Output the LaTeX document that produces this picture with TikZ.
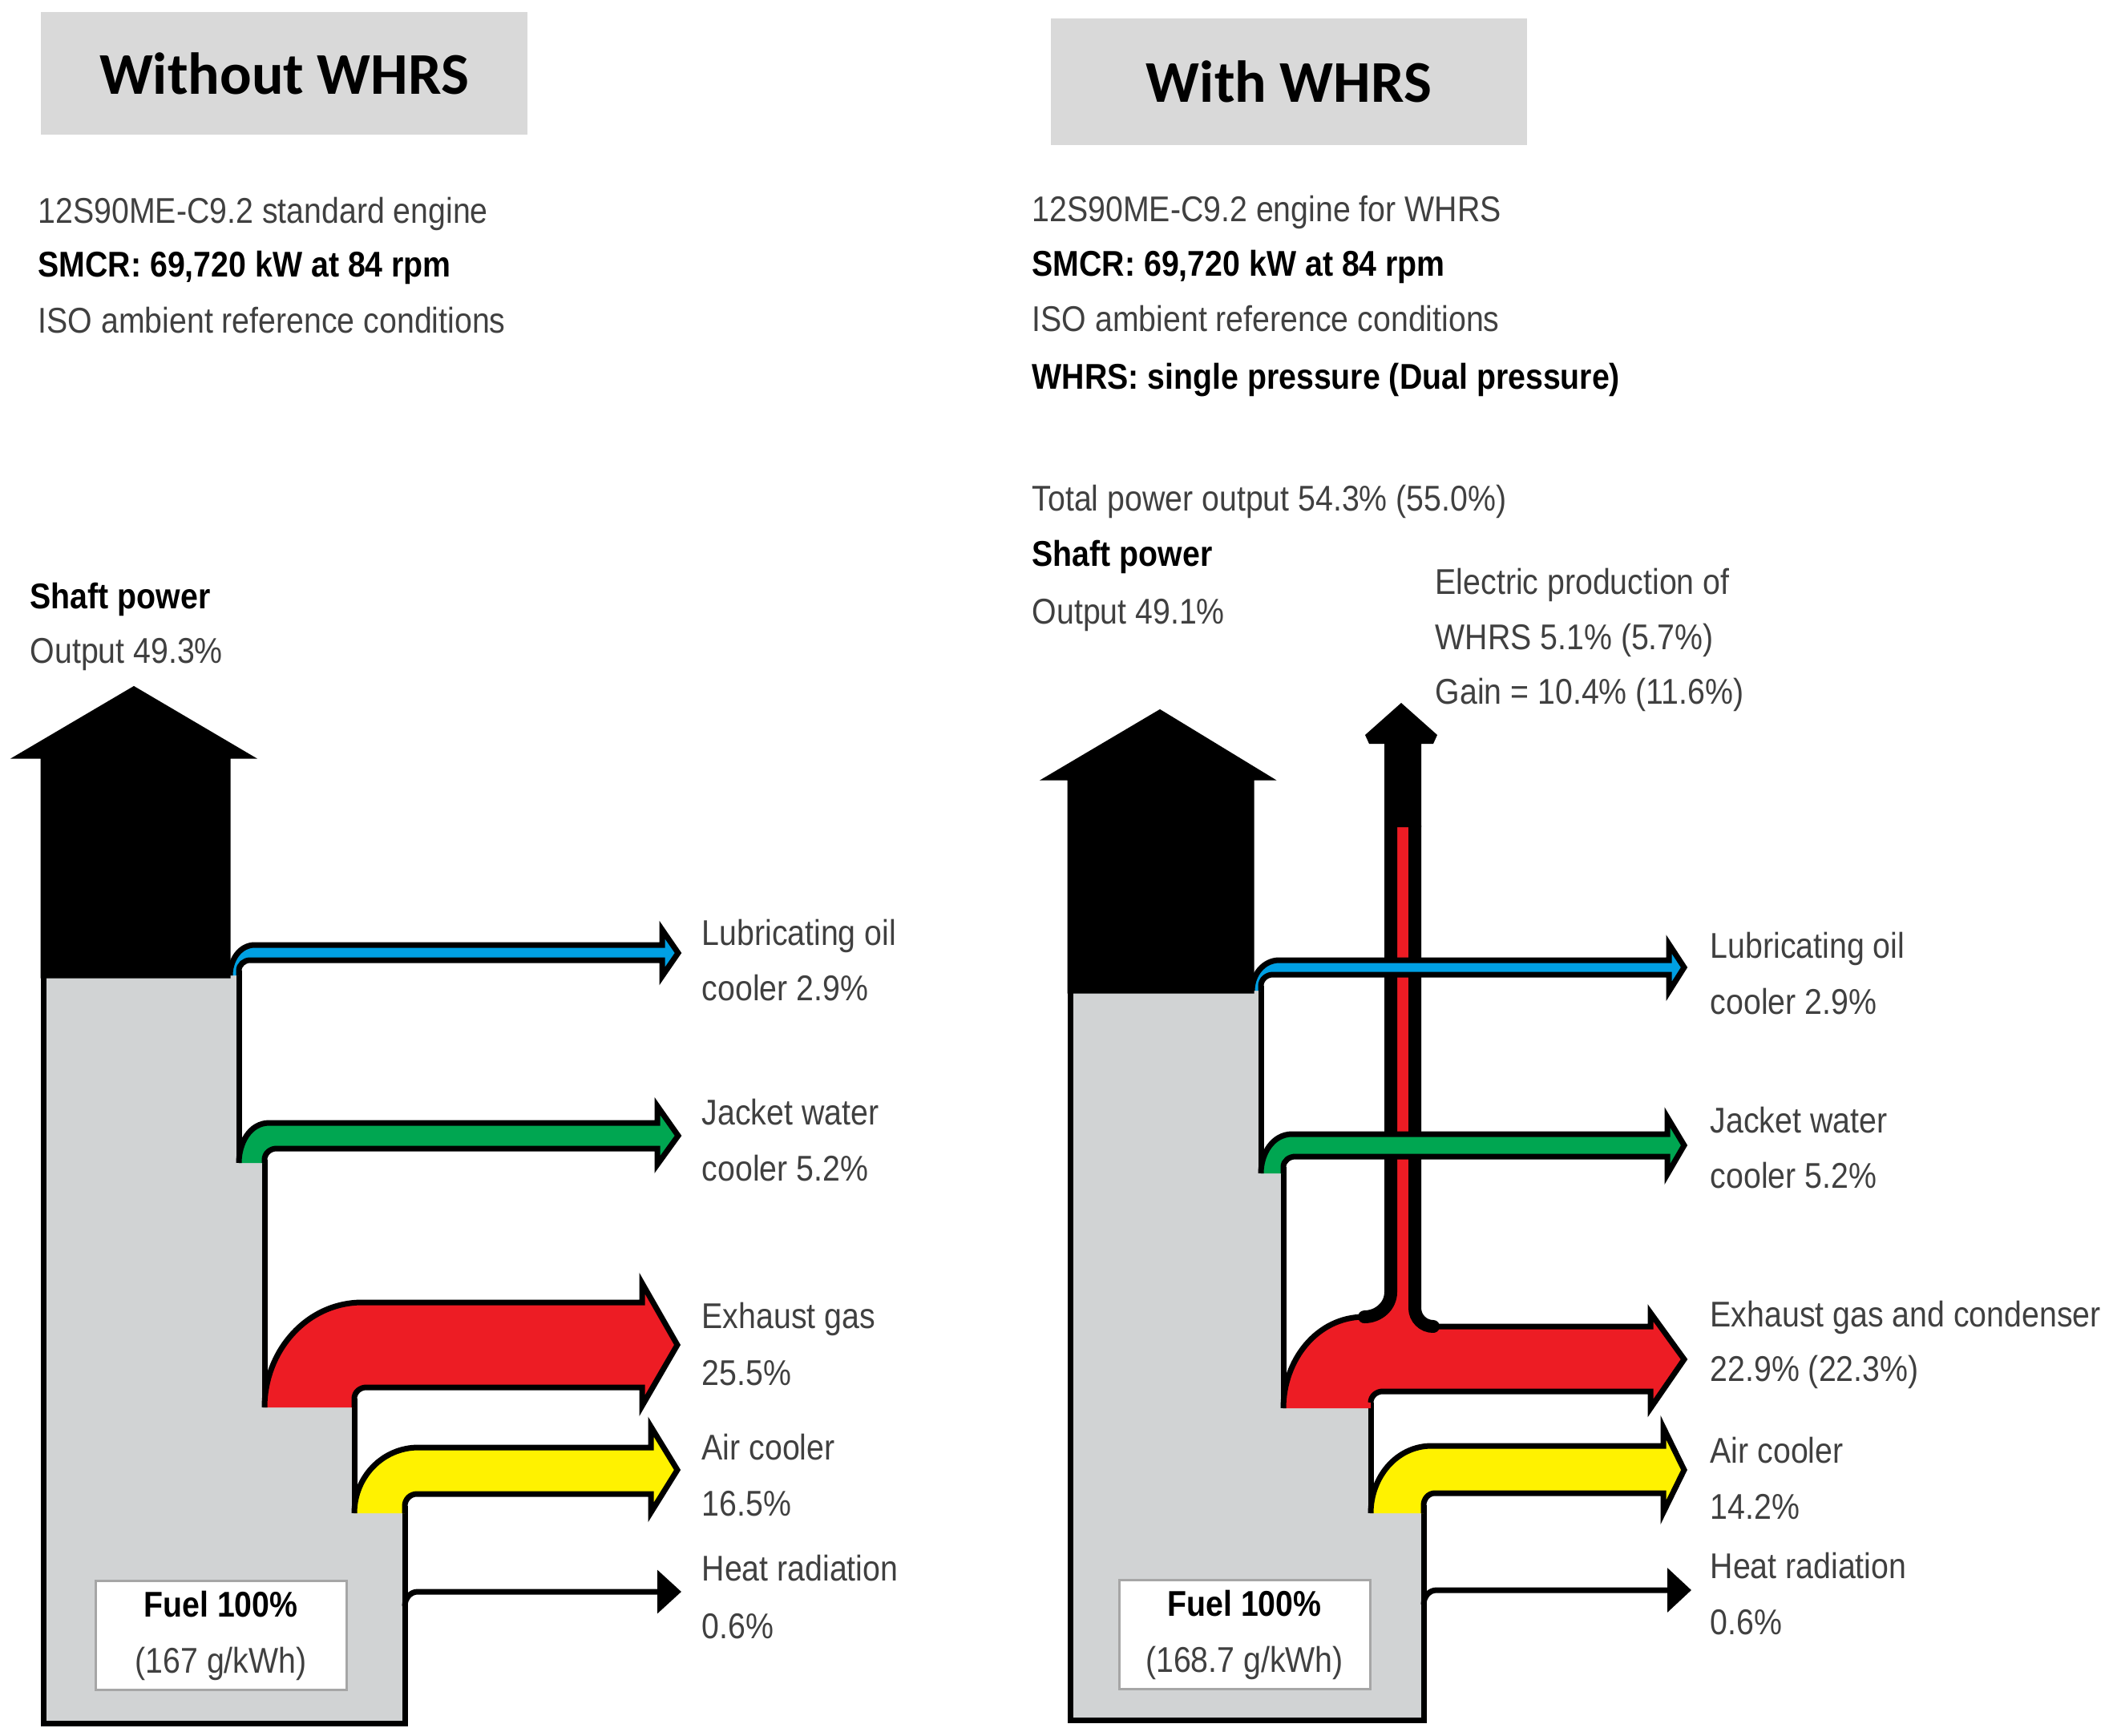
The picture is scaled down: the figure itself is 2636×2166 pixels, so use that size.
\documentclass[tikz,border=0pt]{standalone}
\usepackage{fontspec}
\setmainfont{Liberation Sans}
\newfontfamily\narrowfont[FakeStretch=0.88]{Liberation Sans}
\newfontfamily\titlefont{Carlito}
\usetikzlibrary{arrows.meta}

\definecolor{txtgray}{RGB}{64,64,64}
\definecolor{bodygray}{RGB}{209,211,212}
\definecolor{boxgray}{RGB}{217,217,217}
\definecolor{oilblue}{RGB}{0,160,227}
\definecolor{watergreen}{RGB}{0,166,81}
\definecolor{gasred}{RGB}{237,28,36}
\definecolor{airyellow}{RGB}{255,242,0}

\begin{document}
\begin{tikzpicture}[x=0.1mm, y=-0.1mm,
    outline/.style={draw=black, line width=0.7mm},
    lab/.style={anchor=base west, inner sep=0pt, text=txtgray, font=\narrowfont\fontsize{12.7}{15}\selectfont},
    blab/.style={lab, text=black, font=\narrowfont\bfseries\fontsize{12.7}{15}\selectfont},
    titlebox/.style={fill=boxgray, inner sep=0pt, font=\titlefont\bfseries\fontsize{21}{25}\selectfont},
    fuelbox/.style={fill=white, draw=gray!70, line width=0.3mm, align=center, inner sep=0pt,
        minimum width=31.3mm, minimum height=13.6mm, text=txtgray, font=\narrowfont\fontsize{12.7}{19.9}\selectfont}]
    \useasboundingbox (0,0) rectangle (2636,2166);

    % headings
    \node[titlebox, minimum width=60.7mm, minimum height=15.3mm] (titleL) at (354.5,91.5) {Without WHRS};
    \node[titlebox, minimum width=59.4mm, minimum height=15.8mm] (titleR) at (1608,102) {With WHRS};

    \node[lab] (engL) at (47,279) {12S90ME-C9.2 standard engine};
    \node[blab] (smcrL) at (47,345) {SMCR: 69,720 kW at 84 rpm};
    \node[lab] (isoL) at (47,415) {ISO ambient reference conditions};
    \node[blab] (shaftL) at (37,759) {Shaft power};
    \node[lab] (outL) at (37,827) {Output 49.3\%};

    \node[lab] (engR) at (1287,276) {12S90ME-C9.2 engine for WHRS};
    \node[blab] (smcrR) at (1287,344) {SMCR: 69,720 kW at 84 rpm};
    \node[lab] (isoR) at (1287,413) {ISO ambient reference conditions};
    \node[blab] (whrsR) at (1287,485) {WHRS: single pressure (Dual pressure)};
    \node[lab] (totR) at (1287,637) {Total power output 54.3\% (55.0\%)};
    \node[blab] (shaftR) at (1287,706) {Shaft power};
    \node[lab] (outR) at (1287,778) {Output 49.1\%};
    \node[lab] (elecR) at (1790,741) {Electric production of};
    \node[lab] (prodR) at (1790,810) {WHRS 5.1\% (5.7\%)};
    \node[lab] (gainR) at (1790,878) {Gain = 10.4\% (11.6\%)};

    % left engine, without WHRS
    \fill[bodygray] (54,1217) -- (298,1217) -- (298,1451) -- (330,1451) -- (330,1756) -- (442,1756) -- (442,1888) -- (505,1888) -- (505,2150) -- (54,2150) -- cycle;
    \draw[outline] (298,1211) -- (298,1451) (330,1447) -- (330,1756) (442,1745) -- (442,1888) (505,1879) -- (505,2150) -- (54,2150) -- (54,1217);
    \draw[outline, fill=oilblue] (287,1217) to[out=90,in=180] (318,1179) -- (826,1179) -- (826,1160) -- (846,1189) -- (826,1218) -- (826,1198) -- (312,1198) to[out=180,in=90] (298,1211) -- (298,1217);
    \draw[outline, fill=watergreen] (298,1451) to[out=90,in=180] (336,1401) -- (820,1401) -- (820,1380) -- (846,1417) -- (820,1453) -- (820,1433) -- (345,1433) to[out=180,in=90] (330,1447) -- (330,1451);
    \draw[outline, fill=gasred] (330,1756) to[out=90,in=180] (452,1625) -- (801,1625) -- (801,1601) -- (845,1678) -- (801,1754) -- (801,1731) -- (457,1731) to[out=180,in=90] (442,1745) -- (442,1756);
    \draw[outline, fill=airyellow] (442,1888) to[out=90,in=180] (522,1806) -- (812,1806) -- (812,1780) -- (845,1834) -- (812,1887) -- (812,1864) -- (520,1864) to[out=180,in=90] (505,1879) -- (505,1888);
    \draw[outline, fill=black] (54,1217) -- (54,943) -- (26,943) -- (167,860) -- (308,943) -- (284,943) -- (284,1217) -- cycle;
    \draw[outline, -{Triangle[length=3mm,width=5.3mm]}] (505,2004) to[out=90,in=180] (521,1986) -- (850,1986);
    \node[fuelbox] (fuelL) at (275.5,2040.5) {\textcolor{black}{\bfseries Fuel 100\%}\\(167 g/kWh)};

    \node[lab] (oilL) at (875,1179) {Lubricating oil};
    \node[lab] (oilvL) at (875,1248) {cooler 2.9\%};
    \node[lab] (jwL) at (875,1403) {Jacket water};
    \node[lab] (jwvL) at (875,1473) {cooler 5.2\%};
    \node[lab] (exL) at (875,1657) {Exhaust gas};
    \node[lab] (exvL) at (875,1728) {25.5\%};
    \node[lab] (airL) at (875,1821) {Air cooler};
    \node[lab] (airvL) at (875,1891) {16.5\%};
    \node[lab] (radL) at (875,1972) {Heat radiation};
    \node[lab] (radvL) at (875,2044) {0.6\%};

    % right engine, with WHRS
    \fill[bodygray] (1335,1236) -- (1573,1236) -- (1573,1464) -- (1601,1464) -- (1601,1757) -- (1710,1757) -- (1710,1888) -- (1776,1888) -- (1776,2146) -- (1335,2146) -- cycle;
    \draw[outline] (1573,1230) -- (1573,1464) (1601,1456) -- (1601,1757) (1710,1750) -- (1710,1888) (1776,1878) -- (1776,2146) -- (1335,2146) -- (1335,1236);
    \fill[gasred] (1601,1757) to[out=90,in=180] (1702,1643) to[out=0,in=-90] (1735,1612) -- (1735,1030) -- (1765,1030) -- (1765,1632) to[out=-90,in=180] (1788,1655) -- (2059,1655) -- (2059,1638) -- (2101,1696) -- (2059,1757) -- (2059,1736) -- (1725,1736) to[out=180,in=90] (1710,1750) -- (1710,1757) -- cycle;
    \draw[outline] (1601,1757) to[out=90,in=180] (1702,1643);
    \draw[outline] (1788,1655) -- (2059,1655) -- (2059,1638) -- (2101,1696) -- (2059,1757) -- (2059,1736) -- (1725,1736) to[out=180,in=90] (1710,1750);
    \fill (1727,1032) -- (1727,928) -- (1708,928) -- (1703,917) -- (1748,877) -- (1793,917) -- (1788,928) -- (1773,928) -- (1773,1032) -- cycle;
    \draw[line width=1.6mm, line cap=round] (1702,1643) to[out=0,in=-90] (1735,1612) -- (1735,1030);
    \draw[line width=1.6mm, line cap=round] (1765,1030) -- (1765,1632) to[out=-90,in=180] (1788,1655);
    \draw[outline, fill=airyellow] (1710,1888) to[out=90,in=180] (1786,1804) -- (2075,1804) -- (2075,1781) -- (2101,1834) -- (2075,1887) -- (2075,1863) -- (1790,1863) to[out=180,in=90] (1776,1878) -- (1776,1888);
    \draw[outline, fill=oilblue] (1562,1236) to[out=90,in=180] (1596,1198) -- (2082,1198) -- (2082,1178) -- (2101,1207) -- (2082,1237) -- (2082,1216) -- (1588,1216) to[out=180,in=90] (1573,1230) -- (1573,1236);
    \draw[outline, fill=watergreen] (1573,1464) to[out=90,in=180] (1612,1415) -- (2080,1415) -- (2080,1394) -- (2101,1429) -- (2080,1465) -- (2080,1443) -- (1616,1443) to[out=180,in=90] (1601,1456) -- (1601,1464);
    \draw[outline, fill=black] (1335,1236) -- (1335,970) -- (1310,970) -- (1447,889) -- (1580,970) -- (1561,970) -- (1561,1236) -- cycle;
    \draw[outline, -{Triangle[length=3mm,width=5.4mm]}] (1776,2002) to[out=90,in=180] (1792,1984) -- (2110,1984);
    \node[fuelbox] (fuelR) at (1552.5,2039.5) {\textcolor{black}{\bfseries Fuel 100\%}\\(168.7 g/kWh)};

    \node[lab] (oilR) at (2133,1195) {Lubricating oil};
    \node[lab] (oilvR) at (2133,1265) {cooler 2.9\%};
    \node[lab] (jwR) at (2133,1413) {Jacket water};
    \node[lab] (jwvR) at (2133,1482) {cooler 5.2\%};
    \node[lab] (exR) at (2133,1655) {Exhaust gas and condenser};
    \node[lab] (exvR) at (2133,1723) {22.9\% (22.3\%)};
    \node[lab] (airR) at (2133,1825) {Air cooler};
    \node[lab] (airvR) at (2133,1895) {14.2\%};
    \node[lab] (radR) at (2133,1969) {Heat radiation};
    \node[lab] (radvR) at (2133,2039) {0.6\%};
\end{tikzpicture}
\end{document}
